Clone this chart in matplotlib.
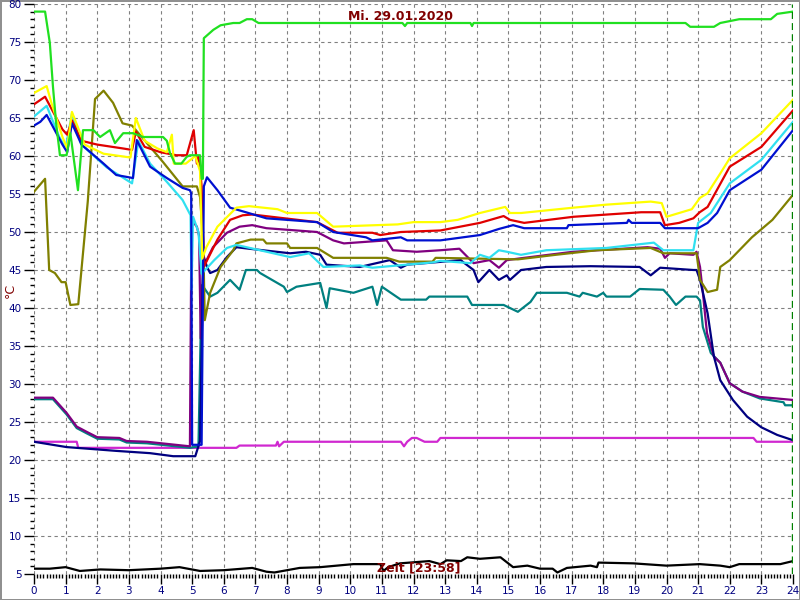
import matplotlib
matplotlib.use("Agg")
import matplotlib.pyplot as plt
from matplotlib.ticker import MultipleLocator

# Tagesverlauf 29.01.2020 - Temperaturen in °C über die Uhrzeit (h)
green_t = [0, 0.35, 0.5, 0.6, 0.7, 0.82, 1.03, 1.15, 1.39, 1.55, 1.88, 2.09, 2.4, 2.56, 2.82, 3.13, 3.45,
           4.08, 4.2, 4.3, 4.46, 4.66, 4.83, 4.93, 5.25, 5.3, 5.34, 5.37, 5.67, 5.9, 6.3, 6.5, 6.73, 6.9,
           7.1, 11.65, 11.73, 11.8, 13.8, 13.85, 13.9, 20.6, 20.75, 21.5, 21.7, 22.3, 23.3, 23.5, 24]
green_v = [79, 79, 74.9, 69.1, 64.3, 60.1, 60.1, 63, 55.5, 63.4, 63.4, 62.5, 63.4, 61.7, 63, 63, 62.5,
           62.5, 62, 60.4, 59, 59, 59.9, 60.1, 60.1, 57, 57, 75.5, 76.6, 77.2, 77.5, 77.5, 78, 78,
           77.5, 77.5, 77.1, 77.5, 77.5, 77.1, 77.5, 77.5, 77, 77, 77.5, 78, 78, 78.7, 79]

yellow_t = [0, 0.4, 0.55, 0.9, 1.05, 1.2, 1.6, 2.2, 3.05, 3.22, 3.5, 3.9, 4.2, 4.36, 4.42, 4.8, 5.1,
            5.25, 5.32, 5.45, 5.8, 6.4, 6.8, 7.7, 8.0, 8.95, 9.46, 11.5, 12.0, 12.85, 13.4, 14.1, 14.9,
            15.05, 15.4, 17.05, 18.1, 19.5, 19.85, 20.0, 20.4, 20.8, 21.06, 21.3, 21.7, 22.0, 23.0, 24]
yellow_v = [68.3, 69.2, 67, 62.5, 61, 65.8, 61.5, 60.3, 59.8, 65, 62, 61, 60.5, 62.8, 59, 59, 60,
            58, 46.5, 48, 50.7, 53.2, 53.4, 53, 52.5, 52.5, 50.7, 51, 51.3, 51.3, 51.6, 52.5, 53.3,
            52.5, 52.5, 53.2, 53.6, 54, 53.8, 52, 52.5, 53, 54.5, 55.1, 57.7, 59.7, 63, 67.4]

red_t = [0, 0.35, 0.9, 1.05, 1.2, 1.5, 2.0, 2.8, 3.1, 3.22, 3.5, 4.0, 4.5, 4.83, 5.05, 5.15, 5.22,
         5.3, 5.38, 5.8, 6.2, 6.6, 6.9, 8.95, 9.6, 10.7, 10.95, 11.6, 12.85, 14.1, 14.85, 15.05, 15.5,
         17.05, 19.2, 19.8, 19.95, 20.4, 20.85, 21.05, 21.3, 22, 23, 24]
red_v = [66.8, 67.8, 63.5, 62.8, 64.7, 62, 61.5, 61, 60.8, 63.2, 61.2, 60.5, 60.1, 60.1, 63.4, 59, 60,
         56, 45.5, 49, 51.6, 52.2, 52.3, 51.3, 49.9, 49.9, 49.6, 50, 50.2, 51.2, 52.1, 51.6, 51.2,
         52, 52.6, 52.6, 50.9, 51.2, 51.8, 52.6, 53.3, 58.6, 61.2, 66]

cyan_t = [0, 0.4, 0.8, 1.0, 1.2, 1.5, 2.3, 3.1, 3.3, 3.67, 4.2, 4.7, 4.95, 4.98, 5.03, 5.2, 5.3, 5.7,
          6.1, 6.4, 8.1, 8.7, 9.15, 10.3, 10.7, 12.6, 12.85, 13.8, 14.1, 14.4, 14.7, 14.95, 15.4, 16.2,
          18.1, 19.6, 19.9, 20.85, 21.0, 21.4, 22, 23, 24]
cyan_v = [65.2, 66.6, 62.5, 61, 65.6, 61.5, 58.5, 56.4, 62, 59, 56.6, 54.2, 52.2, 42.4, 52, 50, 44.5, 46.3,
          47.9, 48.3, 46.7, 47.2, 45.4, 45.6, 45.3, 46, 46.2, 45.9, 47, 46.6, 47.6, 47.4, 47, 47.6,
          47.9, 48.6, 47.6, 47.6, 51.2, 52.5, 56.4, 59.5, 64.5]

blue_t = [0, 0.2, 0.4, 0.9, 1.05, 1.2, 1.5, 2.2, 2.6, 3.13, 3.25, 3.67, 4.2, 4.7, 4.93, 4.97, 5.0, 5.3,
          5.37, 5.47, 5.8, 6.2, 6.7, 7.35, 8.95, 9.46, 10.5, 10.7, 11.6, 11.8, 12.85, 14.1, 14.7, 15.15,
          15.5, 16.85, 16.9, 18.75, 18.8, 18.9, 19.8, 19.95, 20.4, 21.0, 21.3, 21.6, 22, 23, 24]
blue_v = [64, 64.5, 65.4, 61.5, 60.5, 64.3, 61.5, 59, 57.5, 57.1, 62.1, 58.6, 57.1, 55.8, 55.5, 55.1, 22, 22,
          56, 57.2, 55.5, 53.2, 52.6, 51.8, 51.3, 50, 49.3, 48.9, 49.3, 48.9, 48.9, 49.6, 50.4, 50.9,
          50.5, 50.5, 50.9, 51.2, 51.6, 51.2, 51.2, 50.5, 50.5, 50.5, 51.2, 52.5, 55.5, 58.2, 63.4]

olive_t = [0, 0.35, 0.48, 0.66, 0.87, 1.0, 1.15, 1.4, 1.7, 1.93, 2.2, 2.5, 2.8, 3.1, 3.57, 4.08, 4.7,
           5.15, 5.25, 5.35, 5.4, 5.57, 5.9, 6.3, 6.4, 6.85, 7.25, 7.35, 8.0, 8.1, 8.95, 9.46, 11.15,
           11.55, 12.6, 12.7, 15.3, 16.5, 17.8, 19.5, 19.9, 20.95, 21.06, 21.3, 21.6, 21.7, 22, 22.7,
           23.35, 24]
olive_v = [55.3, 57, 45, 44.6, 43.4, 43.4, 40.4, 40.5, 54, 67.5, 68.6, 67, 64.3, 64, 61.7, 59.2, 56,
           56, 54.6, 49, 38.4, 42, 45.4, 47.6, 48.5, 49, 49, 48.5, 48.5, 47.9, 47.9, 46.6, 46.6,
           46.1, 46.1, 46.6, 46.4, 47, 47.6, 47.9, 47.2, 47.2, 43.7, 42.1, 42.4, 45.4, 46.3, 49.3,
           51.6, 54.9]

purple_t = [0, 0.6, 1.03, 1.35, 1.67, 2.0, 2.7, 2.93, 3.57, 4.93, 4.98, 5.15, 5.22, 5.27, 5.35, 5.66,
            6.1, 6.5, 6.9, 7.35, 8.95, 9.46, 9.8, 11.15, 11.35, 12.1, 12.85, 13.45, 13.9, 14.4, 14.7,
            14.95, 15.5, 17.05, 19.4, 19.8, 19.95, 20.1, 20.85, 20.95, 21.06, 21.15, 21.28, 21.5, 21.7,
            22, 22.4, 22.95, 24]
purple_v = [28.2, 28.2, 26.2, 24.4, 23.7, 23, 22.9, 22.5, 22.4, 21.8, 51.6, 50.7, 49.5, 36, 45.4, 48,
            49.9, 50.7, 50.9, 50.5, 50, 48.9, 48.5, 48.9, 47.6, 47.4, 47.6, 47.8, 45.9, 46.3, 45.3,
            46.3, 46.6, 47.4, 48, 47.8, 46.6, 47.2, 47, 47.4, 45.4, 42, 36.7, 33.6, 32.8,
            30.1, 29, 28.3, 27.9]

teal_t = [0, 0.6, 1.03, 1.35, 1.67, 2.0, 2.7, 2.93, 3.57, 4.93, 5.2, 5.3, 5.35, 5.57, 5.8, 6.2, 6.5,
          6.7, 7.05, 7.15, 7.9, 8.0, 8.3, 9.05, 9.25, 9.35, 10.1, 10.7, 10.85, 11.0, 11.6, 12.4, 12.5,
          13.7, 13.85, 14.85, 15.3, 15.7, 15.9, 16.85, 17.25, 17.35, 17.8, 18.0, 18.1, 18.85, 19.15,
          19.9, 20.1, 20.3, 20.6, 20.95, 21.06, 21.15, 21.4, 21.7, 22, 22.4, 22.95, 23.7, 23.75, 24]
teal_v = [28, 28, 26, 24.2, 23.5, 22.8, 22.7, 22.3, 22.2, 21.6, 21.8, 43, 42.8, 41.5, 42, 43.7, 42.4,
          45, 45, 44.6, 42.8, 42.1, 42.8, 43.3, 40, 42.6, 42, 42.8, 40.4, 42.8, 41.1, 41.1, 41.5,
          41.5, 40.4, 40.4, 39.5, 40.8, 42, 42, 41.5, 42, 41.5, 42, 41.5, 41.5, 42.5,
          42.4, 41.5, 40.4, 41.5, 41.5, 41, 37.5, 34.1, 32.8, 30.1, 29, 28.1, 27.6, 27.2, 27.2]

navy_t = [0, 1.03, 2.6, 3.67, 4.4, 5.1, 5.25, 5.35, 5.47, 5.57, 5.8, 6.1, 6.4, 6.8, 8.1, 8.6, 9.05,
          9.25, 10.3, 11.25, 11.6, 11.8, 13.5, 13.55, 13.9, 14.05, 14.4, 14.7, 14.95, 15.05, 15.4,
          16.2, 17.6, 19.15, 19.5, 19.8, 20.85, 20.95, 21.06, 21.3, 21.5, 21.7, 22.1, 22.55, 23,
          23.5, 24]
navy_v = [22.4, 21.7, 21.2, 20.9, 20.5, 20.5, 22.5, 47, 45.4, 44.6, 45, 46.7, 48, 47.8, 47.2, 47.4, 47,
          45.7, 45.4, 46.3, 45.3, 45.7, 46.3, 46.1, 45, 43.4, 45, 43.7, 44.3, 43.7, 45,
          45.4, 45.5, 45.4, 44.3, 45.3, 45, 45, 43.7, 39.3, 33.6, 30.5, 27.9, 25.7, 24.3,
          23.3, 22.6]

magenta_t = [0, 1.35, 1.4, 6.4, 6.5, 7.65, 7.7, 7.75, 7.9, 11.6, 11.7, 11.8, 11.95, 12.1, 12.35, 12.45,
             12.75, 12.85, 22.75, 22.85, 24]
magenta_v = [22.4, 22.4, 21.6, 21.6, 21.9, 21.9, 22.4, 21.8, 22.4, 22.4, 21.8, 22.4, 22.9, 22.9, 22.4,
             22.4, 22.4, 22.9, 22.9, 22.4, 22.4]

black_t = [0, 0.5, 1.0, 1.45, 2.1, 3.0, 4.0, 4.6, 5.25, 6.0, 6.9, 7.35, 7.6, 8.4, 9.05, 10.1, 10.95,
           11.05, 11.2, 11.57, 12.5, 12.85, 13.05, 13.5, 13.7, 14.1, 14.75, 15.15, 15.6, 16.0, 16.4,
           16.55, 16.85, 17.6, 17.8, 17.85, 18.95, 20.0, 21.05, 21.7, 22.0, 22.3, 23.6, 24]
black_v = [5.7, 5.7, 5.9, 5.4, 5.6, 5.5, 5.7, 5.9, 5.4, 5.5, 5.8, 5.3, 5.2, 5.8, 5.9, 6.3, 6.3,
           5.4, 5.9, 6.4, 6.7, 6.3, 6.8, 6.7, 7.2, 7.0, 7.2, 5.9, 6.1, 5.7, 5.7,
           5.2, 5.8, 6.1, 5.9, 6.5, 6.4, 6.1, 6.3, 6.1, 5.9, 6.3, 6.3, 6.7]

now_h = 23 + 58 / 60

fig = plt.figure(figsize=(8, 6), dpi=100)
fig.patch.set_facecolor("white")
fig.patch.set_edgecolor("#909090")
fig.patch.set_linewidth(2)
ax = fig.add_axes([34 / 800, 26 / 600, 759 / 800, 570 / 600])

lw = 1.6
ax.plot(black_t, black_v, color="black", lw=lw)
ax.plot(magenta_t, magenta_v, color="#d028d0", lw=lw)
ax.plot(teal_t, teal_v, color="#008080", lw=lw)
ax.plot(purple_t, purple_v, color="#800080", lw=lw)
ax.plot(navy_t, navy_v, color="#000080", lw=lw)
ax.plot(olive_t, olive_v, color="#808000", lw=lw)
ax.plot(cyan_t, cyan_v, color="#30e0f0", lw=lw)
ax.plot(red_t, red_v, color="#e00000", lw=lw)
ax.plot(blue_t, blue_v, color="#0010d0", lw=lw)
ax.plot(yellow_t, yellow_v, color="#ffff00", lw=lw)
ax.plot(green_t, green_v, color="#20e020", lw=lw)

ax.axvline(now_h, color="#008000", lw=1, linestyle=(0, (5, 3)))

ax.set_xlim(0, 24)
ax.set_ylim(5, 80)
ax.set_xticks(range(0, 25))
ax.set_yticks(range(5, 81, 5))
ax.xaxis.set_minor_locator(MultipleLocator(0.1))
ax.yaxis.set_minor_locator(MultipleLocator(1))
ax.tick_params(which="major", length=7, width=1, color="black", labelsize=7.5,
               labelcolor="#000080", pad=2)
ax.tick_params(which="minor", length=3, width=1, color="black")
ax.grid(which="major", color="#808080", linestyle=(0, (3, 3)), lw=0.8)
for s in ax.spines.values():
    s.set_visible(False)

fig.text(401 / 800, 1 - 17 / 600, "Mi. 29.01.2020", color="#800000", fontsize=9,
         fontweight="bold", ha="center", va="center")
fig.text(419 / 800, 1 - 568 / 600, "Zeit [23:58]", color="#800000", fontsize=9,
         fontweight="bold", ha="center", va="center")
fig.text(10 / 800, 1 - 290 / 600, "°C", color="#800000", fontsize=9, rotation=90,
         ha="center", va="center")

fig.savefig("out.png", dpi=100)
